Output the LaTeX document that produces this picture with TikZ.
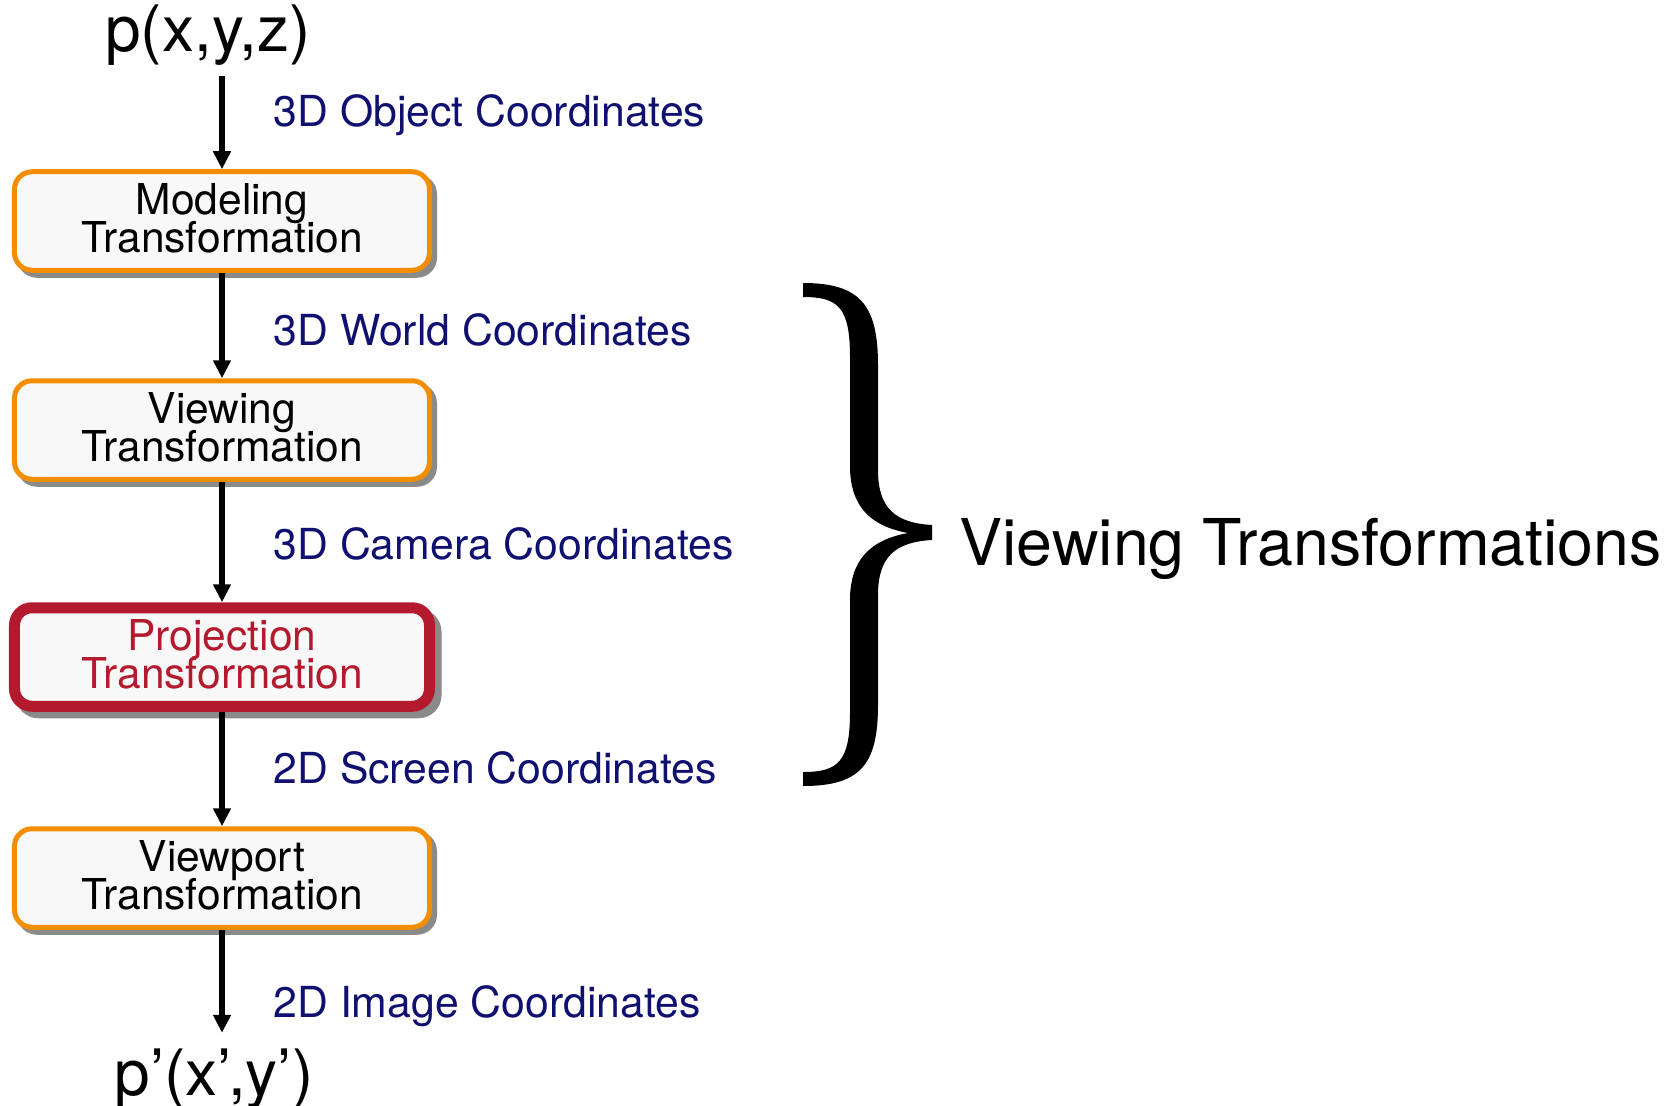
\documentclass[tikz,border=0pt]{standalone}
\usepackage{fontspec}
\setmainfont{TeX Gyre Heros}
\usetikzlibrary{arrows.meta,shadows}
\definecolor{boxorange}{RGB}{243,142,0}
\definecolor{boxred}{RGB}{180,26,46}
\definecolor{boxfill}{RGB}{248,248,248}
\definecolor{shadowgray}{RGB}{138,138,138}
\definecolor{coordblue}{RGB}{16,16,112}
\newcommand\tightlines{\lineskiplimit -100pt\relax}

\begin{document}
\begin{tikzpicture}[x=0.4pt, y=-0.4pt,
	box/.style={rectangle, rounded corners=7pt, fill=boxfill, inner sep=0pt,
		minimum width=166pt, minimum height=39.4pt, align=center, text depth=2.6pt,
		font=\fontsize{17}{15.2}\selectfont\tightlines},
	stage/.style={box, draw=boxorange, line width=2pt,
		drop shadow={shadow xshift=2pt, shadow yshift=-2pt, opacity=1,
			fill=shadowgray, draw=shadowgray}},
	hot/.style={box, draw=boxred, text=boxred, line width=4.4pt,
		drop shadow={shadow xshift=2.6pt, shadow yshift=-2.6pt, opacity=1,
			fill=shadowgray, draw=shadowgray}},
	coord/.style={anchor=base west, inner sep=0pt, text=coordblue,
		font=\fontsize{17.1}{20}\selectfont},
	point/.style={anchor=base, inner sep=4pt, font=\fontsize{25.6}{30}\selectfont},
	flow/.style={line width=2.4pt, -{Triangle[width=6.8pt,length=7.2pt]}}]
	\useasboundingbox (0,0) rectangle (1677,1105);

	\node[point] (pin) at (208,52) {p(x,y,z)};
	\node[stage] (mod) at (222,221) {Modeling\\Transformation};
	\node[stage] (view) at (222,430) {Viewing\\Transformation};
	\node[hot] (proj) at (222,657) {Projection\\Transformation};
	\node[stage] (vpt) at (222,878) {Viewport\\Transformation};
	\node[point, inner sep=6pt] (pout) at (214,1095) {p’(x’,y’)};

	\node[coord] (lobj) at (273,127) {3D Object Coordinates};
	\node[coord] (lworld) at (273,345) {3D World Coordinates};
	\node[coord] (lcam) at (273,559) {3D Camera Coordinates};
	\node[coord] (lscr) at (273,783) {2D Screen Coordinates};
	\node[coord] (limg) at (273,1017) {2D Image Coordinates};

	\draw[flow] (pin.south -| mod.north) -- (mod.north);
	\draw[flow] (mod) -- (view);
	\draw[flow] (view) -- (proj);
	\draw[flow] (proj) -- (vpt);
	\draw[flow] (vpt.south) -- (vpt.south |- pout.north);

	\fill (803,283) .. controls (860,283) and (878,305) .. (878,365)
		-- (878,470) .. controls (878,508) and (895,523) .. (932,525)
		-- (932,540) .. controls (895,542) and (878,557) .. (878,595)
		-- (878,705) .. controls (878,765) and (860,786) .. (803,786)
		-- (803,772) .. controls (838,772) and (850,762) .. (850,712)
		-- (850,600) .. controls (850,560) and (870,540) .. (908,533)
		.. controls (870,526) and (850,506) .. (850,466)
		-- (850,357) .. controls (850,307) and (838,297) .. (803,297)
		-- cycle;
	\node[anchor=base west, inner sep=0pt, font=\fontsize{25.8}{30}\selectfont] (vt)
		at (959,565) {Viewing Transformations};
\end{tikzpicture}
\end{document}
